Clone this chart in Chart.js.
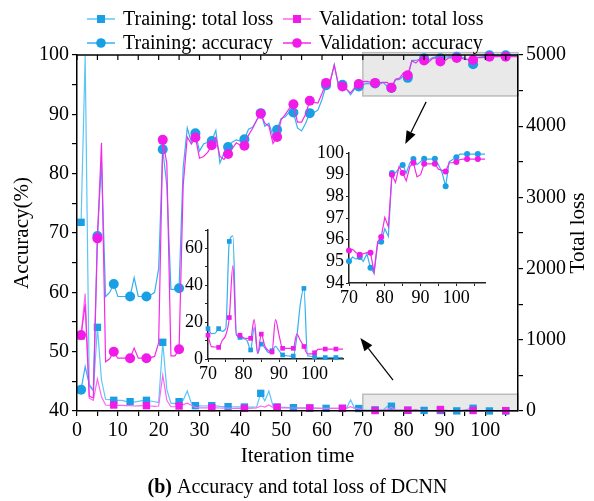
<!DOCTYPE html>
<html>
<head>
<meta charset="utf-8">
<script src="https://cdn.jsdelivr.net/npm/chart.js@4.4.0/dist/chart.umd.min.js"></script>
<style>
  html, body { margin: 0; padding: 0; background: #fff; }
  #wrap { position: relative; width: 594px; height: 501px; }
  canvas { position: absolute; }
</style>
</head>
<body>
<div id="wrap">
  <canvas id="main" width="594" height="501" style="left:0;top:0"></canvas>
  <canvas id="insetLoss" width="190" height="175" style="left:160px;top:215px"></canvas>
  <canvas id="insetAcc" width="195" height="170" style="left:300px;top:140px"></canvas>
</div>
<script>
"use strict";
// ── Data ──
const iterations = [
  1,2,3,4,5,6,7,8,9,10,11,12,13,14,15,16,17,18,19,20,
  21,22,23,24,25,26,27,28,29,30,31,32,33,34,35,36,37,38,39,40,
  41,42,43,44,45,46,47,48,49,50,51,52,53,54,55,56,57,58,59,60,
  61,62,63,64,65,66,67,68,69,70,71,72,73,74,75,76,77,78,79,80,
  81,82,83,84,85,86,87,88,89,90,91,92,93,94,95,96,97,98,99,100,
  101,102,103,104,105,106,107,108
];

const trainAcc = [
  43.6,47.5,44.5,43.5,69.5,82.0,59.3,60.0,61.4,59.3,59.3,59.3,59.3,62.5,59.3,59.3,59.3,59.5,60.0,64.0,
  84.1,78.0,60.5,60.5,60.7,81.0,87.7,85.3,86.8,83.8,85.0,85.3,85.5,87.3,81.8,83.5,84.5,85.3,85.7,85.5,
  85.8,87.5,87.8,89.0,90.2,88.0,88.5,86.3,87.4,89.3,89.6,90.4,90.3,87.7,87.2,88.5,90.2,90.3,90.7,92.5,
  94.9,95.5,98.4,95.0,95.0,94.3,93.3,94.3,94.7,95.0,95.2,95.1,95.2,95.0,95.35,94.7,94.45,95.8,95.9,96.5,
  96.15,99.08,99.08,99.3,99.45,99.08,99.54,99.72,99.46,99.6,99.74,99.72,99.72,99.74,99.46,99.1,98.46,99.6,99.7,99.8,
  99.95,99.95,99.95,99.95,99.95,99.95,99.95,99.95
];

const valAcc = [
  52.8,58.0,42.5,42.2,69.1,85.2,48.3,48.8,50.0,48.9,48.9,48.9,48.9,50.6,48.9,48.9,48.9,49.0,49.2,51.5,
  85.7,81.7,49.3,49.3,50.4,78.0,86.2,85.0,86.1,82.6,82.9,83.6,84.8,86.1,82.9,82.4,83.3,84.2,85.2,84.8,
  84.7,86.5,87.6,89.0,90.1,88.5,88.0,85.1,86.2,89.1,90.0,91.0,91.7,88.7,88.7,90.0,92.3,92.0,91.9,93.5,
  95.3,95.5,98.3,95.0,94.7,94.2,93.6,94.5,95.1,95.5,95.55,95.4,95.3,95.35,95.4,95.4,94.5,95.9,96.12,97.03,
  96.6,99.0,98.64,99.38,99.08,98.72,99.37,99.55,98.9,99.0,99.5,99.5,99.5,99.5,99.25,99.2,99.15,99.55,99.56,99.58,
  99.7,99.72,99.72,99.72,99.72,99.72,99.72,99.72
];

const trainLoss = [
  2650,4990,350,280,1175,435,165,160,150,150,150,135,131,125,135,145,150,140,130,120,
  965,300,110,105,131,150,281,110,75,72,70,72,75,72,65,62,61,60,58,57,
  56,55,54,60,248,143,281,70,56,52,50,48,47,45,44,43,42,40,39,38,
  37,37,37,36,37,40,155,37,35,16.5,13.8,14.0,16.5,15.0,16.5,63.8,66.8,13.0,11.7,11.0,
  10.0,4.9,17.0,3.0,8.1,6.0,3.5,4.5,6.8,4.5,2.2,1.8,1.6,1.6,12.0,30.0,38.3,1.8,1.5,1.2,
  0.9,0.8,0.8,0.8,0.8,0.8,0.8,0.8
];

const valLoss = [
  1053,1650,180,150,450,200,84,80,84,80,78,75,75,70,72,75,75,70,65,70,
  505,150,60,60,70,90,110,80,50,45,44,45,47,44,42,40,39,38,38,37,
  37,38,40,45,70,55,85,50,51,45,43,42,42,41,41,40,42,40,38,38,
  37,37,36,36,37,38,60,36,35,12.9,6.7,6.5,6.3,10.0,13.0,22.5,50.7,12.9,12.9,11.5,
  11.2,11.2,21.4,3.0,13.5,7.0,4.5,3.8,21.4,13.0,5.8,5.8,5.8,5.8,13.5,10.0,6.8,2.8,2.8,3.4,
  5.2,5.4,5.4,5.4,5.4,5.4,5.4,5.4
];

const seriesNames = ["Training: total loss", "Validation: total loss", "Training: accuracy", "Validation: accuracy"];
const caption = ["(b)", " Accuracy and total loss of DCNN"];

// zoom windows and arrows, in data units (x = iteration)
const zoomIters = [70, 108];
const accWindow = [93.1, 100.4];
const lossWindow = [0, 235];
const arrowToAcc = [[85.5, 92.1], [80.4, 85.0]];   // acc axis units
const arrowToLoss = [[77.4, 45.2], [69.4, 52.3]];  // acc axis units

// ── Styling ──
const FONT = "'Liberation Serif', 'Times New Roman', serif";
Chart.defaults.font.family = FONT;
Chart.defaults.color = "#000";

const BLUE = "#1a9fe5", BLUE_LINE = "#34b0f0", BLUE_LOSS_LINE = "#5cc6f7";
const PINK = "#f01be8", PINK_LINE = "#f52ae8", PINK_LOSS_LINE = "#ff66f3";

// legend: two columns x two rows above the plot
const legendCols = [87, 283], legendRows = [19, 43];
const legendStyle = [
  [BLUE_LOSS_LINE, BLUE, "rect"], [PINK_LOSS_LINE, PINK, "rect"],
  [BLUE_LINE, BLUE, "circle"], [PINK_LINE, PINK, "circle"]
];

function markEvery(step, first, r) {
  return c => ((c.chart.data.labels[c.dataIndex] - first) % step === 0 ? r : 0);
}

function arrow(ctx, x0, y0, x1, y1) {
  const a = Math.atan2(y1 - y0, x1 - x0), len = 13, hw = 5;
  const bx = x1 - len * Math.cos(a), by = y1 - len * Math.sin(a);
  ctx.beginPath(); ctx.moveTo(x0, y0); ctx.lineTo(bx, by); ctx.stroke();
  ctx.beginPath();
  ctx.moveTo(x1, y1);
  ctx.lineTo(bx + hw * Math.sin(a), by - hw * Math.cos(a));
  ctx.lineTo(bx - hw * Math.sin(a), by + hw * Math.cos(a));
  ctx.closePath(); ctx.fill();
}

const mainDecor = {
  id: "mainDecor",
  beforeDatasetsDraw(chart) {
    const { ctx, scales: { x, yAcc, yLoss } } = chart;
    const x0 = x.getPixelForValue(zoomIters[0]), x1 = x.getPixelForValue(zoomIters[1]);
    ctx.save();
    ctx.fillStyle = "#e9e9e9"; ctx.strokeStyle = "#bcbcbc"; ctx.lineWidth = 1.5;
    let y0 = yAcc.getPixelForValue(accWindow[1]), y1 = yAcc.getPixelForValue(accWindow[0]);
    ctx.fillRect(x0, y0, x1 - x0, y1 - y0); ctx.strokeRect(x0, y0, x1 - x0, y1 - y0);
    y0 = yLoss.getPixelForValue(lossWindow[1]); y1 = yLoss.getPixelForValue(lossWindow[0]);
    ctx.fillRect(x0, y0, x1 - x0, y1 - y0); ctx.strokeRect(x0, y0, x1 - x0, y1 - y0);
    ctx.restore();
  },
  afterDraw(chart) {
    const { ctx, chartArea: ca, scales: { x, yAcc } } = chart;
    ctx.save();
    // top frame with inward ticks
    ctx.strokeStyle = "#000"; ctx.lineWidth = 1.5;
    ctx.beginPath(); ctx.moveTo(ca.left, ca.top); ctx.lineTo(ca.right, ca.top); ctx.stroke();
    ctx.lineWidth = 1.2;
    x.ticks.forEach(t => {
      const px = x.getPixelForValue(t.value);
      ctx.beginPath(); ctx.moveTo(px, ca.top); ctx.lineTo(px, ca.top + 5); ctx.stroke();
    });
    // arrows
    ctx.fillStyle = "#000"; ctx.lineWidth = 1.2;
    [arrowToAcc, arrowToLoss].forEach(([p, q]) => {
      arrow(ctx, x.getPixelForValue(p[0]), yAcc.getPixelForValue(p[1]),
                 x.getPixelForValue(q[0]), yAcc.getPixelForValue(q[1]));
    });
    // legend
    ctx.textBaseline = "middle";
    ctx.font = "20px " + FONT;
    seriesNames.forEach((name, i) => {
      const lx = legendCols[i % 2], ly = legendRows[Math.floor(i / 2)];
      const [lc, mc, shape] = legendStyle[i];
      ctx.strokeStyle = lc; ctx.lineWidth = 1.5;
      ctx.beginPath(); ctx.moveTo(lx, ly); ctx.lineTo(lx + 28, ly); ctx.stroke();
      ctx.fillStyle = mc;
      if (shape === "rect") ctx.fillRect(lx + 10, ly - 4, 8, 8);
      else { ctx.beginPath(); ctx.arc(lx + 14, ly, 4.8, 0, Math.PI * 2); ctx.fill(); }
      ctx.fillStyle = "#000";
      ctx.fillText(name, lx + 36, ly + 1);
    });
    // right axis title, reading upwards like the left one
    ctx.save();
    ctx.translate(578, (ca.top + ca.bottom) / 2);
    ctx.rotate(-Math.PI / 2);
    ctx.textAlign = "center"; ctx.font = "21px " + FONT;
    ctx.fillText("Total loss", 0, 0);
    ctx.restore();
    // caption
    ctx.font = "bold 20px " + FONT;
    const w0 = ctx.measureText(caption[0]).width;
    ctx.font = "20px " + FONT;
    const w1 = ctx.measureText(caption[1]).width;
    const cx = (ca.left + ca.right) / 2, sx = cx - (w0 + w1) / 2;
    ctx.textAlign = "left";
    ctx.font = "bold 20px " + FONT; ctx.fillText(caption[0], sx, 488);
    ctx.font = "20px " + FONT; ctx.fillText(caption[1], sx + w0, 488);
    ctx.restore();
  }
};

const axisBorder = { display: true, color: "#000", width: 1.5, z: 1 };
const tickGrid = { drawOnChartArea: false, color: "#000", lineWidth: 1.2, tickLength: 5 };

new Chart(document.getElementById("main"), {
  type: "line",
  data: {
    labels: iterations,
    datasets: [
      { label: seriesNames[0], data: trainLoss, yAxisID: "yLoss", borderColor: BLUE_LOSS_LINE,
        pointBackgroundColor: BLUE, pointStyle: "rect", pointRadius: markEvery(4, 1, 5.2),
        pointBorderWidth: 0, borderWidth: 1.2, order: 4, clip: false },
      { label: seriesNames[1], data: valLoss, yAxisID: "yLoss", borderColor: PINK_LOSS_LINE,
        pointBackgroundColor: PINK, pointStyle: "rect", pointRadius: markEvery(8, 1, 5.2),
        pointBorderWidth: 0, borderWidth: 1.2, order: 2, clip: false },
      { label: seriesNames[2], data: trainAcc, yAxisID: "yAcc", borderColor: BLUE_LINE,
        pointBackgroundColor: BLUE, pointStyle: "circle", pointRadius: markEvery(4, 1, 5),
        pointBorderWidth: 0, borderWidth: 1.2, order: 3, clip: false },
      { label: seriesNames[3], data: valAcc, yAxisID: "yAcc", borderColor: PINK_LINE,
        pointBackgroundColor: PINK, pointStyle: "circle", pointRadius: markEvery(4, 1, 5),
        pointBorderWidth: 0, borderWidth: 1.2, order: 1, clip: false }
    ]
  },
  options: {
    responsive: false, animation: false, devicePixelRatio: 1,
    layout: { padding: { top: 55, bottom: 32, left: 0, right: 0 } },
    plugins: { tooltip: { enabled: false }, legend: { display: false } },
    scales: {
      x: {
        type: "linear", min: 0, max: 108, border: axisBorder, grid: tickGrid,
        ticks: { stepSize: 5, includeBounds: false, autoSkip: false, maxRotation: 0, padding: 3,
                 font: { size: 20 }, callback: v => (v % 10 === 0 ? v : "") },
        title: { display: true, text: "Iteration time", font: { size: 21 }, padding: { top: 0, bottom: 0 } },
        afterFit: s => { s.height = 58; }
      },
      yAcc: {
        type: "linear", position: "left", min: 40, max: 100, border: axisBorder, grid: tickGrid,
        ticks: { stepSize: 5, autoSkip: false, padding: 3, font: { size: 20 },
                 callback: v => (v % 10 === 0 ? v : "") },
        title: { display: true, text: "Accuracy(%)", font: { size: 21 }, padding: { top: 10, bottom: 0 } },
        afterFit: s => { s.width = 77; }
      },
      yLoss: {
        type: "linear", position: "right", min: 0, max: 5000, border: axisBorder, grid: tickGrid,
        ticks: { stepSize: 500, autoSkip: false, padding: 3, font: { size: 20 },
                 callback: v => (v % 1000 === 0 ? v : "") },
        afterFit: s => { s.width = 76; }
      }
    }
  },
  plugins: [mainDecor]
});

// ── Insets ──
const insetBorder = { display: true, color: "#222", width: 1.5 };
const insetGrid = { drawOnChartArea: false, color: "#222", lineWidth: 1, tickLength: 3 };
const insetX = {
  type: "linear", min: 70, max: 108, border: insetBorder, grid: insetGrid,
  ticks: { stepSize: 5, includeBounds: false, autoSkip: false, maxRotation: 0, padding: 1,
           font: { size: 18 }, callback: v => (v % 10 === 0 ? v : "") }
};

new Chart(document.getElementById("insetLoss"), {
  type: "line",
  data: {
    labels: iterations.slice(69),
    datasets: [
      { data: trainLoss.slice(69), borderColor: BLUE_LINE, pointBackgroundColor: BLUE, pointStyle: "rect",
        pointRadius: markEvery(3, 70, 3.3), pointBorderWidth: 0, borderWidth: 1.2,
        cubicInterpolationMode: "monotone", order: 2, clip: false },
      { data: valLoss.slice(69), borderColor: PINK_LINE, pointBackgroundColor: PINK, pointStyle: "rect",
        pointRadius: markEvery(3, 70, 3.3), pointBorderWidth: 0, borderWidth: 1.2,
        cubicInterpolationMode: "monotone", order: 1, clip: false }
    ]
  },
  options: {
    responsive: false, animation: false, devicePixelRatio: 1,
    layout: { padding: { top: 15, right: 7, left: 0, bottom: 0 } },
    plugins: { legend: { display: false }, tooltip: { enabled: false } },
    scales: {
      x: { ...insetX, afterFit: s => { s.height = 31; } },
      y: {
        type: "linear", min: 0, max: 70, border: insetBorder, grid: insetGrid,
        ticks: { stepSize: 10, autoSkip: false, padding: 2, font: { size: 18 },
                 callback: v => (v % 20 === 0 ? v : "") },
        afterFit: s => { s.width = 48; }
      }
    }
  }
});

new Chart(document.getElementById("insetAcc"), {
  type: "line",
  data: {
    labels: iterations.slice(69),
    datasets: [
      { data: trainAcc.slice(69), borderColor: BLUE_LINE, pointBackgroundColor: BLUE, pointStyle: "circle",
        pointRadius: markEvery(3, 70, 3), pointBorderWidth: 0, borderWidth: 1.2, order: 2, clip: false },
      { data: valAcc.slice(69), borderColor: PINK_LINE, pointBackgroundColor: PINK, pointStyle: "circle",
        pointRadius: markEvery(3, 70, 3), pointBorderWidth: 0, borderWidth: 1.2, order: 1, clip: false }
    ]
  },
  options: {
    responsive: false, animation: false, devicePixelRatio: 1,
    layout: { padding: { top: 13, right: 10, left: 0, bottom: 0 } },
    plugins: { legend: { display: false }, tooltip: { enabled: false } },
    scales: {
      x: { ...insetX, afterFit: s => { s.height = 27; } },
      y: {
        type: "linear", min: 94, max: 100, border: insetBorder, grid: insetGrid,
        ticks: { stepSize: 1, autoSkip: false, padding: 2, font: { size: 18 } },
        afterFit: s => { s.width = 49; }
      }
    }
  }
});
</script>
</body>
</html>
